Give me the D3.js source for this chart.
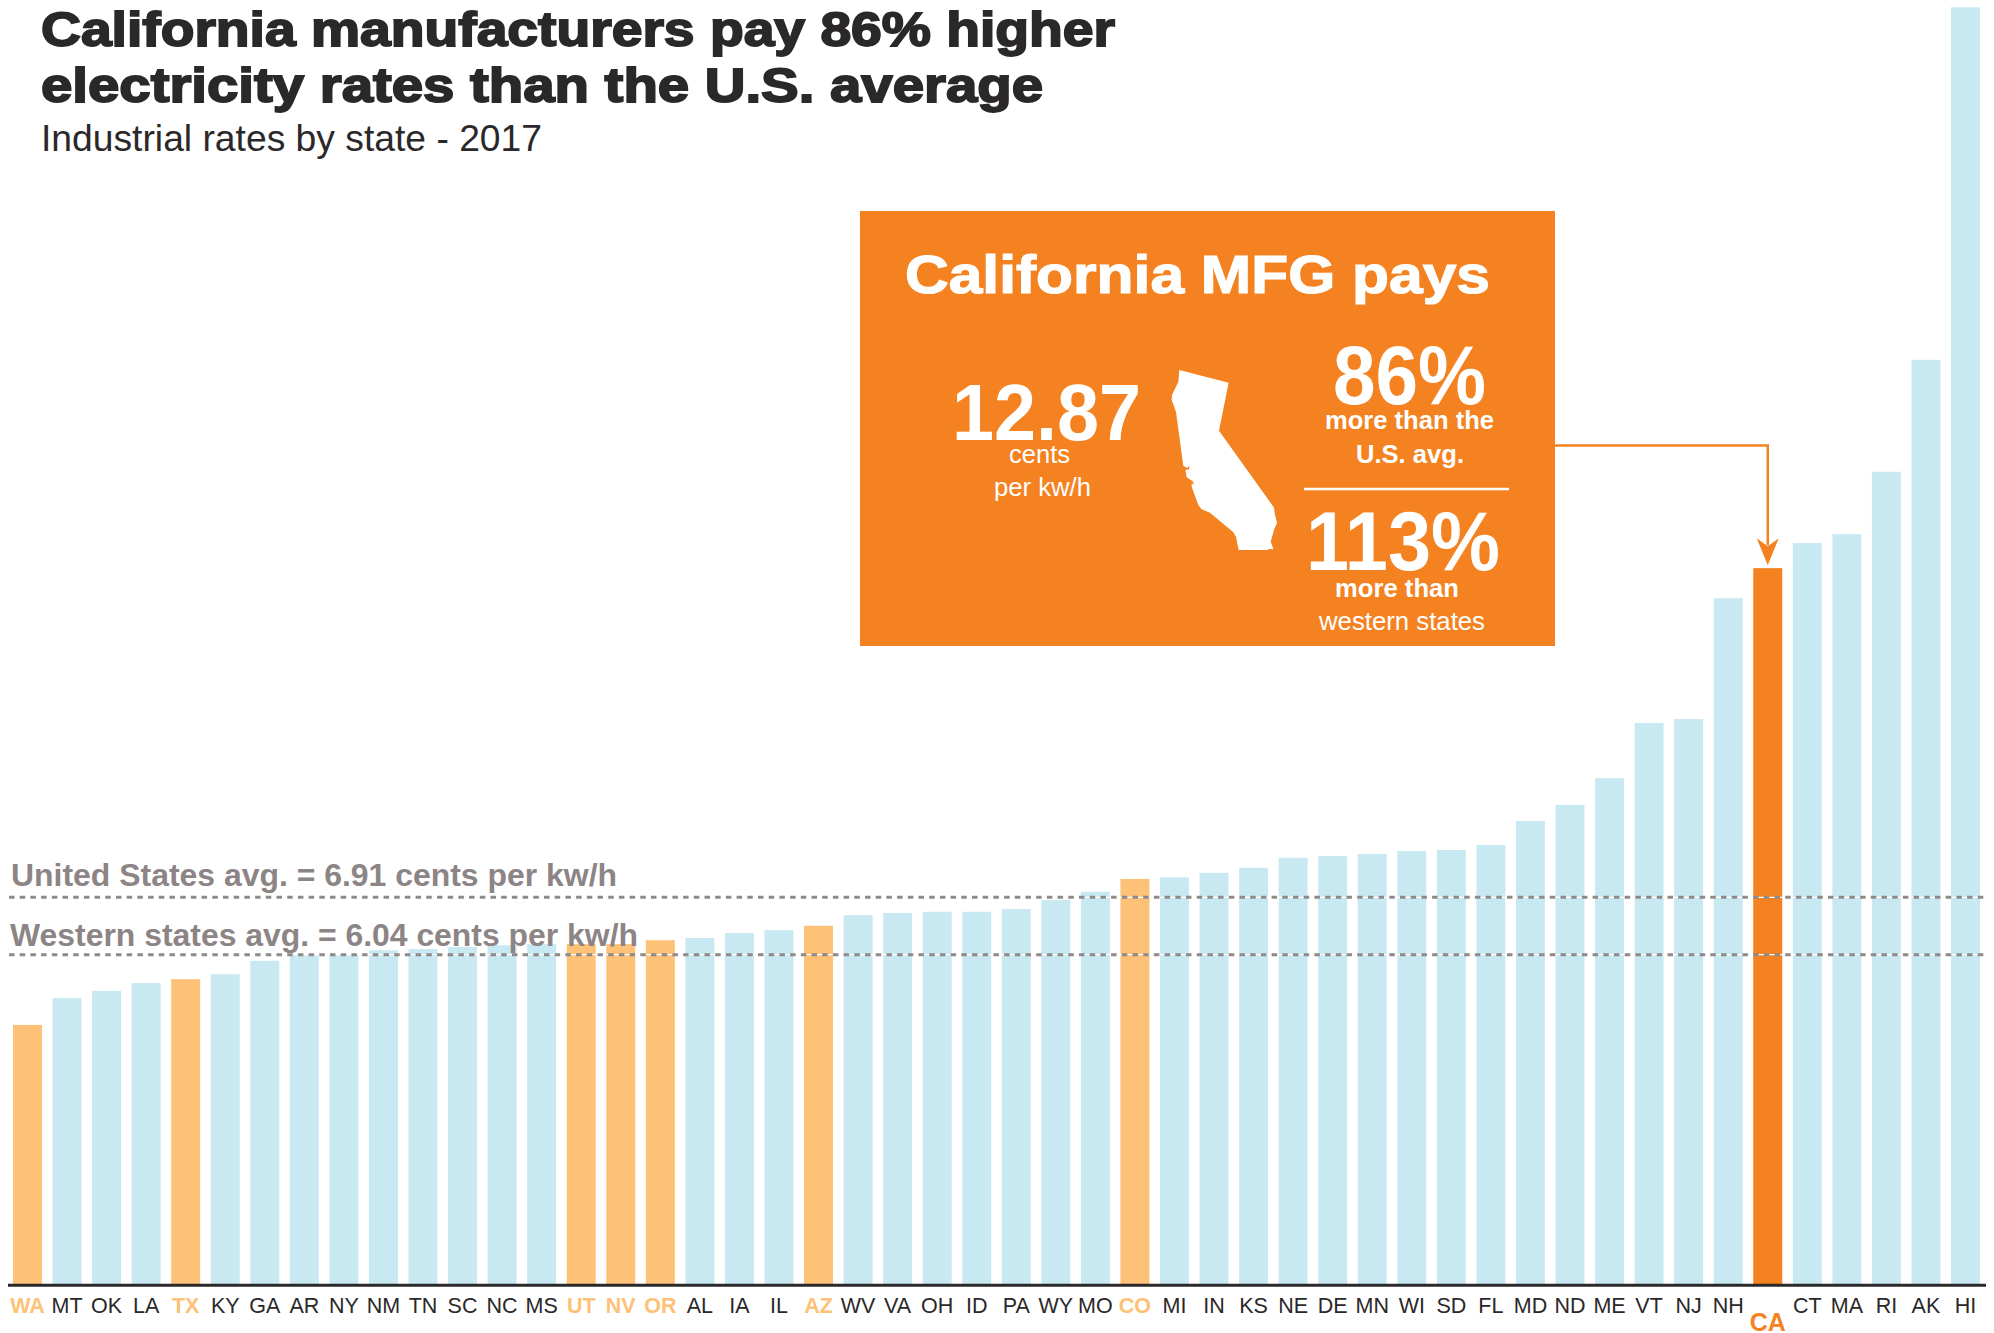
<!DOCTYPE html>
<html>
<head>
<meta charset="utf-8">
<script src="https://cdn.jsdelivr.net/npm/d3@7"></script>
<style>
  html, body { margin: 0; padding: 0; background: #fff; }
  svg { display: block; font-family: "Liberation Sans", Arial, sans-serif; }
</style>
</head>
<body>
<svg id="chart" width="1994" height="1333"></svg>
<script>
// Industrial electricity rates by state, cents per kw/h
const states = ["WA","MT","OK","LA","TX","KY","GA","AR","NY","NM","TN","SC","NC","MS","UT","NV","OR",
  "AL","IA","IL","AZ","WV","VA","OH","ID","PA","WY","MO","CO","MI","IN","KS","NE","DE","MN","WI","SD",
  "FL","MD","ND","ME","VT","NJ","NH","CA","CT","MA","RI","AK","HI"];
const rates = [4.67,5.15,5.28,5.42,5.49,5.58,5.82,5.92,5.92,6.01,6.03,6.07,6.10,6.12,6.12,6.12,6.19,
  6.23,6.32,6.37,6.45,6.64,6.68,6.70,6.70,6.75,6.91,7.06,7.29,7.32,7.40,7.49,7.67,7.70,7.74,7.79,7.81,
  7.90,8.33,8.62,9.10,10.09,10.16,12.33,12.87,13.32,13.48,14.60,16.61,22.94];
const westernStates = ["WA","TX","UT","NV","OR","AZ","CO"];
const avgLabels = ["United States avg. = 6.91 cents per kw/h", "Western states avg. = 6.04 cents per kw/h"];
// where the dotted lines sit on the bar scale in the picture
const avgLevels = [6.96, 5.93];

// outline of the state in the box
const caOutline = [[88,90],[236,128],[207,272],[372,503],[374,520],[381,548],[372,570],[362,605],[368,620],
  [370,628],[355,627],[354,630],[266,630],[258,590],[250,577],[180,518],[155,508],[145,495],[125,440],
  [125,430],[133,434],[128,424],[110,412],[106,390],[117,388],[118,376],[112,384],[100,378],[78,215],
  [65,180],[66,165],[85,125]];

const BLUE = "#c9e9f2", LIGHT_ORANGE = "#fdc177", ORANGE = "#f58220", INK = "#2b2829", GREY = "#8c8485";

const svg = d3.select("#chart");
const data = states.map((s, i) => ({ state: s, rate: rates[i] }));

const x = d3.scaleBand().domain(states).range([13, 1980]).paddingInner(0.267);
const y = d3.scaleLinear().domain([0, 23]).range([1285, 1285 - 23 * 55.7]);

const barColor = d => d.state === "CA" ? ORANGE : westernStates.includes(d.state) ? LIGHT_ORANGE : BLUE;

// --- Bars ---
svg.append("g").selectAll("rect")
  .data(data)
  .enter()
  .append("rect")
  .attr("x", d => x(d.state))
  .attr("y", d => y(d.rate))
  .attr("width", x.bandwidth())
  .attr("height", d => y(0) - y(d.rate))
  .attr("fill", barColor);

// --- Dotted average lines, they run over every bar ---
avgLevels.forEach(v => {
  svg.append("line").attr("x1", 0).attr("x2", 1986).attr("y1", y(v)).attr("y2", y(v))
    .attr("stroke", "#fff").attr("stroke-width", 1.2);
  svg.append("line").attr("x1", 9).attr("x2", 1986).attr("y1", y(v)).attr("y2", y(v))
    .attr("stroke", "#8e8a8a").attr("stroke-width", 3).attr("stroke-dasharray", "5.5 5.2");
});

// --- X axis ---
const axis = svg.append("g")
  .attr("transform", "translate(0,1285)")
  .call(d3.axisBottom(x).tickSize(0).tickPadding(0));
axis.select(".domain").remove();
axis.selectAll("text")
  .attr("y", 28)
  .attr("dy", 0)
  .style("font-family", '"Liberation Sans", Arial, sans-serif')
  .style("font-size", "21.5px")
  .style("font-weight", d => westernStates.includes(d) || d === "CA" ? "bold" : "normal")
  .attr("fill", d => d === "CA" ? ORANGE : westernStates.includes(d) ? LIGHT_ORANGE : INK);
axis.selectAll("text").filter(d => d === "CA")
  .attr("y", 46)
  .style("font-size", "25px");
svg.append("line").attr("x1", 8).attr("x2", 1986).attr("y1", 1285.3).attr("y2", 1285.3)
  .attr("stroke", INK).attr("stroke-width", 3);

// small helper for the many text pieces
function label(px, py, str, size, opts = {}) {
  const t = svg.append("text")
    .attr("x", px).attr("y", py)
    .attr("fill", opts.fill || INK)
    .style("font-size", size + "px")
    .style("font-weight", opts.bold ? "bold" : "normal")
    .text(str);
  if (opts.width) t.attr("textLength", opts.width).attr("lengthAdjust", "spacingAndGlyphs");
  if (opts.stroke) t.attr("stroke", opts.fill || INK).attr("stroke-width", opts.stroke);
  return t;
}

// --- Average labels ---
label(11, 886, avgLabels[0], 32, { bold: true, fill: GREY, width: 606 });
label(10, 946, avgLabels[1], 32, { bold: true, fill: GREY, width: 628 });

// --- Title ---
label(41, 46, "California manufacturers pay 86% higher", 48, { bold: true, width: 1074, stroke: 1.8 });
label(41, 102, "electricity rates than the U.S. average", 48, { bold: true, width: 1002, stroke: 1.8 });
label(41, 151, "Industrial rates by state - 2017", 37, { width: 501 });

// --- Callout box ---
svg.append("rect").attr("x", 860).attr("y", 211).attr("width", 695).attr("height", 435).attr("fill", ORANGE);

const W = "#fff";
label(905, 293, "California MFG pays", 54, { bold: true, fill: W, width: 585, stroke: 1.2 });
label(952, 440, "12.87", 80, { bold: true, fill: W, width: 189 });
label(1009, 463, "cents", 26, { fill: W, width: 61 });
label(994, 496, "per kw/h", 26, { fill: W, width: 97 });
label(1333, 404, "86%", 84, { bold: true, fill: W, width: 153 });
label(1325, 429, "more than the", 26, { bold: true, fill: W, width: 169 });
label(1356, 463, "U.S. avg.", 26, { bold: true, fill: W, width: 108 });
label(1306, 570, "113%", 84, { bold: true, fill: W, width: 194 });
label(1335, 597, "more than", 26, { bold: true, fill: W, width: 124 });
label(1319, 630, "western states", 26, { fill: W, width: 166 });

svg.append("line").attr("x1", 1304).attr("x2", 1509).attr("y1", 489).attr("y2", 489)
  .attr("stroke", W).attr("stroke-width", 2.5);

// state silhouette
svg.append("path")
  .attr("transform", "translate(1150,340) scale(0.3333)")
  .attr("d", d3.line().curve(d3.curveLinear)(caOutline) + "Z")
  .attr("fill", W);

// --- Arrow from the box down to the CA bar ---
const caX = x("CA") + x.bandwidth() / 2;
const tipY = y(12.87) - 3;
svg.append("path")
  .attr("d", `M1555,445.5H${caX}V${tipY - 20}`)
  .attr("fill", "none")
  .attr("stroke", ORANGE)
  .attr("stroke-width", 2.5);
svg.append("path")
  .attr("d", `M${caX},${tipY}L${caX - 11},${tipY - 27}L${caX},${tipY - 19}L${caX + 11},${tipY - 27}Z`)
  .attr("fill", ORANGE);
</script>
</body>
</html>
